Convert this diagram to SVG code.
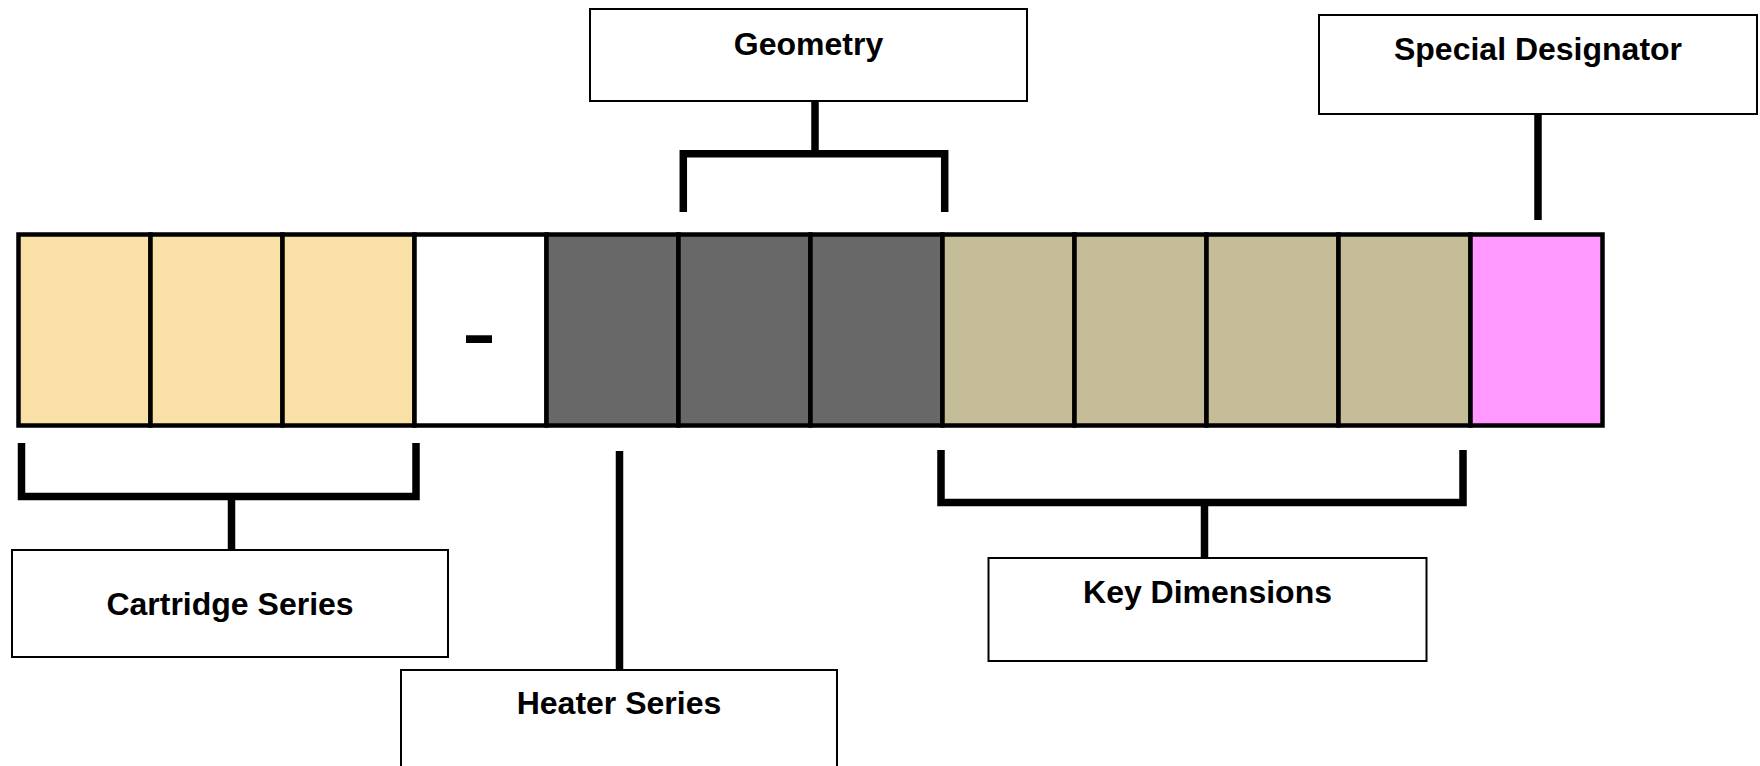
<svg xmlns="http://www.w3.org/2000/svg" width="1760" height="766" viewBox="0 0 1760 766">
<style>
.cell{stroke:#000;stroke-width:4.5}
.c1{fill:#F9E0A7}.c2{fill:#FFFFFF}.c3{fill:#686868}.c4{fill:#C4BD97}.c5{fill:#FF99FF}
.box{fill:#FFFFFF;stroke:#000;stroke-width:2}
.lbl{font-family:"Liberation Sans",Arial,sans-serif;font-weight:bold;font-size:32px;fill:#000;text-anchor:middle}
.con{fill:none;stroke:#000;stroke-width:7.5;stroke-linejoin:miter;stroke-linecap:butt}
</style>
<rect width="1760" height="766" fill="#FFFFFF"/>
<g id="code-bar">
<rect class="cell c1" x="18.5" y="234.5" width="132" height="191"/>
<rect class="cell c1" x="150.5" y="234.5" width="132" height="191"/>
<rect class="cell c1" x="282.5" y="234.5" width="132" height="191"/>
<rect class="cell c2" x="414.5" y="234.5" width="132" height="191"/>
<rect class="cell c3" x="546.5" y="234.5" width="132" height="191"/>
<rect class="cell c3" x="678.5" y="234.5" width="132" height="191"/>
<rect class="cell c3" x="810.5" y="234.5" width="132" height="191"/>
<rect class="cell c4" x="942.5" y="234.5" width="132" height="191"/>
<rect class="cell c4" x="1074.5" y="234.5" width="132" height="191"/>
<rect class="cell c4" x="1206.5" y="234.5" width="132" height="191"/>
<rect class="cell c4" x="1338.5" y="234.5" width="132" height="191"/>
<rect class="cell c5" x="1470.5" y="234.5" width="132" height="191"/>
<text transform="translate(479,356) scale(1.6,1)" x="0" y="0" style="font-family:'Liberation Sans',Arial,sans-serif;font-weight:bold;font-size:64px;text-anchor:middle">-</text>
</g>
<g id="connectors">
<path class="con" d="M815,101 V153.7"/>
<path class="con" d="M683.3,212 V153.7 H944.7 V212"/>
<path class="con" d="M1538,114 V220"/>
<path class="con" d="M21.5,443 V496.5 H416 V443"/>
<path class="con" d="M231.5,496.5 V550"/>
<path class="con" d="M619.5,451 V670"/>
<path class="con" d="M941,450 V502.5 H1463 V450"/>
<path class="con" d="M1204.5,502.5 V558"/>
</g>
<g id="geometry">
<rect class="box" x="590" y="9" width="437" height="92"/>
<text class="lbl" x="808.5" y="55">Geometry</text>
</g>
<g id="special-designator">
<rect class="box" x="1319" y="15" width="438" height="99"/>
<text class="lbl" x="1538" y="60">Special Designator</text>
</g>
<g id="cartridge-series">
<rect class="box" x="12" y="550" width="436" height="107"/>
<text class="lbl" x="230" y="615">Cartridge Series</text>
</g>
<g id="heater-series">
<rect class="box" x="401" y="670" width="436" height="130"/>
<text class="lbl" x="619" y="714">Heater Series</text>
</g>
<g id="key-dimensions">
<rect class="box" x="988.5" y="558" width="438" height="103"/>
<text class="lbl" x="1207.5" y="603">Key Dimensions</text>
</g>
</svg>
